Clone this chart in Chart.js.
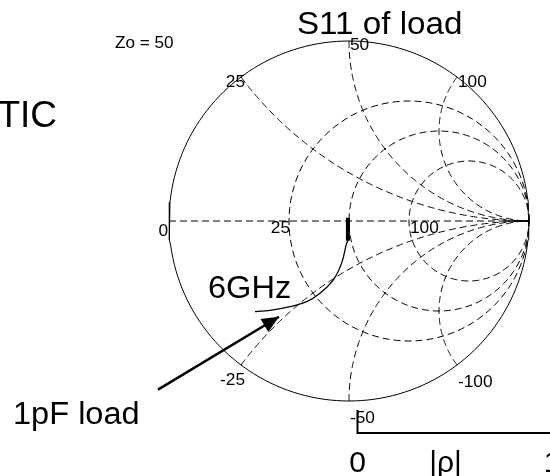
<!DOCTYPE html>
<html><head><meta charset="utf-8">
<script src="https://cdn.jsdelivr.net/npm/chart.js@4/dist/chart.umd.min.js"></script>
<style>html,body{margin:0;padding:0;background:#fff;overflow:hidden}#wrap{width:550px;height:476px;position:relative}</style>
</head><body><div id="wrap"><canvas id="c" width="550" height="476"></canvas></div>
<script>
// ---- data ----
const Z0 = 50;
const resistanceGrid = [25, 50, 100];           // ohms, constant-resistance circles
const reactanceGrid = [25, 50, 100];            // ohms, constant-reactance arcs (+/-)
const realAxisLabelValues = [0, 25, 100];
const reactanceLabelValues = [25, 50, 100, -25, -50, -100];
// S11 trace of the load (reflection coefficient, re / im)
const traceRe = [-0.006, -0.013, -0.041, -0.087, -0.161, -0.235, -0.328, -0.421, -0.522];
const traceIm = [-0.110, -0.123, -0.234, -0.327, -0.401, -0.448, -0.476, -0.494, -0.504];
// dense low-frequency part (thick mark)
const lowFreqRe = [-0.006, -0.006];
const lowFreqIm = [0.018, -0.110];
// annotation arrow (tail -> head), in reflection-coefficient units
const arrowRe = [-1.061, -0.389];
const arrowIm = [-0.937, -0.532];
const rhoTicks = ['0', '|ρ|', '1'];

// ---- helpers ----
function gammaOf(r, x) {
  const d = (r + 1) * (r + 1) + x * x;
  return { x: (r * r - 1 + x * x) / d, y: 2 * x / d };
}
function circlePts(cx, cy, rad, n) {
  const p = [];
  for (let i = 0; i <= n; i++) { const a = 2 * Math.PI * i / n; p.push({ x: cx + rad * Math.cos(a), y: cy + rad * Math.sin(a) }); }
  return p;
}
function reactancePts(xn) {
  const p = []; const N = 200;
  for (let i = 0; i < N; i++) { const t = i / N; const r = t / (1 - t); p.push(gammaOf(r, xn)); }
  p.push({ x: 1, y: 0 });
  return p;
}
const DASH = [7, 4];
const datasets = [];
datasets.push({ data: circlePts(0, 0, 1, 180), borderColor: '#000', borderWidth: 1 });
datasets.push({ data: [{ x: -1, y: 0 }, { x: 1, y: 0 }], borderColor: '#000', borderWidth: 1, borderDash: DASH });
resistanceGrid.forEach(R => { const r = R / Z0; datasets.push({ data: circlePts(r / (1 + r), 0, 1 / (1 + r), 180), borderColor: '#000', borderWidth: 1, borderDash: DASH }); });
reactanceGrid.forEach(X => { [1, -1].forEach(s => datasets.push({ data: reactancePts(s * X / Z0), borderColor: '#000', borderWidth: 1, borderDash: DASH })); });
datasets.push({ data: traceRe.map((v, i) => ({ x: v, y: traceIm[i] })), borderColor: '#000', borderWidth: 1.3, tension: 0.4 });
datasets.push({ data: lowFreqRe.map((v, i) => ({ x: v, y: lowFreqIm[i] })), borderColor: '#000', borderWidth: 4 });
datasets.push({ data: arrowRe.map((v, i) => ({ x: v, y: arrowIm[i] })), borderColor: '#000', borderWidth: 2.5 });
datasets.forEach(d => { d.showLine = true; d.pointRadius = 0; d.fill = false; d.clip = false; if (d.tension === undefined) d.tension = 0; });

const FONT = '"Liberation Sans", Arial, Helvetica, sans-serif';
function txt(ctx, s, x, y, align, size, stretch) {
  ctx.save();
  ctx.font = size + 'px ' + FONT; ctx.textAlign = align; ctx.textBaseline = 'alphabetic';
  ctx.translate(x, y); ctx.scale(stretch, 1); ctx.fillText(s, 0, 0);
  ctx.restore();
}
const overlay = {
  id: 'overlay',
  afterDatasetsDraw(chart) {
    const { ctx } = chart; const sx = chart.scales.x, sy = chart.scales.y;
    const px = v => sx.getPixelForValue(v), py = v => sy.getPixelForValue(v);
    ctx.save();
    ctx.fillStyle = '#000';
    // arrow head
    const x0 = px(arrowRe[0]), y0 = py(arrowIm[0]), x1 = px(arrowRe[1]), y1 = py(arrowIm[1]);
    const ang = Math.atan2(y1 - y0, x1 - x0), L = 17, W = 7.5;
    ctx.beginPath();
    ctx.moveTo(x1, y1);
    ctx.lineTo(x1 - L * Math.cos(ang) + W * Math.sin(ang), y1 - L * Math.sin(ang) - W * Math.cos(ang));
    ctx.lineTo(x1 - L * Math.cos(ang) - W * Math.sin(ang), y1 - L * Math.sin(ang) + W * Math.cos(ang));
    ctx.closePath(); ctx.fill();
    // grid labels
    const GS = 16, GST = 1.08;
    realAxisLabelValues.forEach(v => {
      const r = v / Z0, g = (r - 1) / (r + 1);
      if (r < 1) txt(ctx, String(v), px(g) + (r === 0 ? -1 : 1), py(0) + (r === 0 ? 15 : 12), 'right', GS, GST);
      else txt(ctx, String(v), px(g) + 1, py(0) + 12, 'left', GS, GST);
    });
    reactanceLabelValues.forEach(v => {
      const g = gammaOf(0, v / Z0); const X = px(g.x), Y = py(g.y);
      if (g.x < -0.05) txt(ctx, String(v), X + 4, Y + (v > 0 ? 10 : 20), 'right', GS, GST);
      else txt(ctx, String(v), X + 1, Y + (v > 0 ? (Math.abs(g.x) < 0.05 ? 9 : 10) : 22), 'left', GS, GST);
    });
    // rho bar
    ctx.strokeStyle = '#000'; ctx.lineWidth = 2;
    ctx.beginPath(); ctx.moveTo(357.5, 410); ctx.lineTo(357.5, 433); ctx.lineTo(560, 433); ctx.stroke();
    txt(ctx, rhoTicks[0], 357.5, 472, 'center', 30, 1.0);
    txt(ctx, rhoTicks[1], 445.5, 472, 'center', 30, 1.0);
    txt(ctx, rhoTicks[2], 552, 472, 'center', 30, 1.0);
    // texts
    txt(ctx, 'S11 of load', 297, 34, 'left', 31, 1.07);
    txt(ctx, '6GHz', 208, 298, 'left', 31, 1.05);
    txt(ctx, '1pF load', 13, 424, 'left', 31, 1.05);
    txt(ctx, 'TIC', 57, 127, 'right', 37, 1.0);
    txt(ctx, 'Zo = 50', 115, 48, 'left', 16, 1.07);
    ctx.restore();
  }
};

new Chart(document.getElementById('c'), {
  type: 'scatter',
  data: { datasets },
  options: {
    responsive: false, animation: false, devicePixelRatio: 1,
    layout: { padding: { left: 169, right: 21, top: 41, bottom: 75 } },
    scales: {
      x: { type: 'linear', min: -1, max: 1, display: false },
      y: { type: 'linear', min: -1, max: 1, display: false }
    },
    plugins: { legend: { display: false }, tooltip: { enabled: false } },
    elements: { line: { borderCapStyle: 'butt' } }
  },
  plugins: [overlay]
});
</script></body></html>
